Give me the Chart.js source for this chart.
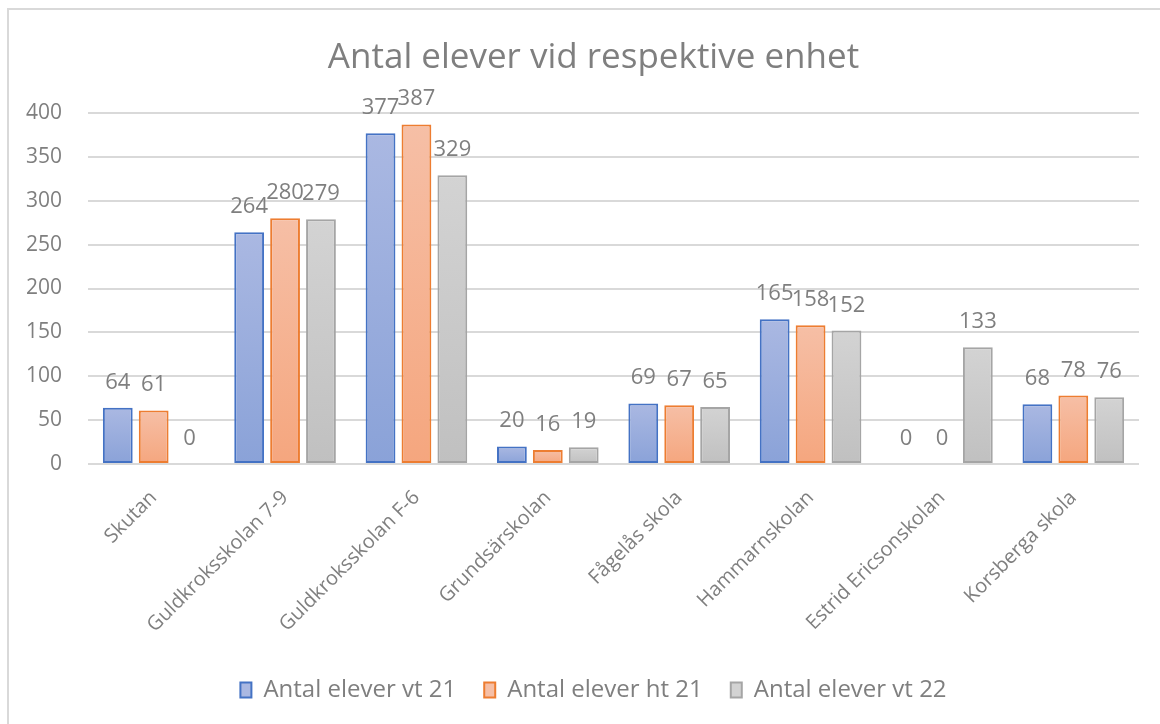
<!DOCTYPE html>
<html>
<head>
<meta charset="utf-8">
<script src="https://cdn.jsdelivr.net/npm/chart.js@4/dist/chart.umd.min.js"></script>
<style>
  html, body { margin: 0; padding: 0; background: #fff; overflow: hidden; }
  #frame { position: absolute; left: 7px; top: 8px; width: 1180px; height: 740px; border: 2px solid #d9d9d9; box-sizing: border-box; }
  #wrap { position: absolute; left: 0; top: 0; width: 1160px; height: 724px; }
</style>
</head>
<body>
<div id="frame"></div>
<div id="wrap"><canvas id="chart"></canvas></div>
<script>
// data
const categories = ['Skutan', 'Guldkroksskolan 7-9', 'Guldkroksskolan F-6', 'Grundsärskolan', 'Fågelås skola', 'Hammarnskolan', 'Estrid Ericsonskolan', 'Korsberga skola'];
const seriesNames = ['Antal elever vt 21', 'Antal elever ht 21', 'Antal elever vt 22'];
const vt21 = [64, 264, 377, 20, 69, 165, 0, 68];
const ht21 = [61, 280, 387, 16, 67, 158, 0, 78];
const vt22 = [0, 279, 329, 19, 65, 152, 133, 76];
const yMin = 0, yMax = 400, yStep = 50;

const TEXT = '#7f7f7f';
const FONT = '"Open Sans"';

// excel-ish colours: [top of gradient, bottom of gradient, border]
const palette = [
    ['#aab8e2', '#8aa2d8', '#4472c4'],
    ['#f6bfa6', '#f5a67e', '#ed7d31'],
    ['#d3d3d3', '#c0c0c0', '#a5a5a5']
];

// gradient per bar, from its top down to zero
function barFill(i) {
    return (ctx) => {
        const chart = ctx.chart;
        if (!chart.chartArea || ctx.type !== 'data') return palette[i][1];
        const y = chart.scales.y;
        const top = y.getPixelForValue(ctx.raw);
        const base = y.getPixelForValue(0);
        if (!(base > top)) return palette[i][1];
        const g = chart.ctx.createLinearGradient(0, top, 0, base);
        g.addColorStop(0, palette[i][0]);
        g.addColorStop(1, palette[i][1]);
        return g;
    };
}

// values above the bars (no datalabels plugin available)
const valueLabels = {
    id: 'valueLabels',
    afterDatasetsDraw(chart) {
        const c = chart.ctx;
        c.save();
        c.font = '22px ' + FONT;
        c.fillStyle = TEXT;
        c.textAlign = 'center';
        c.textBaseline = 'alphabetic';
        chart.data.datasets.forEach((ds, di) => {
            const meta = chart.getDatasetMeta(di);
            meta.data.forEach((bar, i) => {
                c.fillText(String(ds.data[i]), bar.x, bar.y - 19);
            });
        });
        c.restore();
    }
};

const allSeries = [vt21, ht21, vt22];

new Chart(document.getElementById('chart'), {
    type: 'bar',
    data: {
        labels: categories,
        datasets: allSeries.map((vals, i) => ({
            label: seriesNames[i],
            data: vals,
            backgroundColor: barFill(i),
            borderColor: palette[i][2],
            borderWidth: (ctx) => (ctx.raw === 0 ? 0 : 2),
            borderSkipped: false,
            categoryPercentage: 0.82,
            barPercentage: 0.83
        }))
    },
    options: {
        responsive: true,
        maintainAspectRatio: false,
        animation: false,
        layout: { padding: { left: 48, right: 21, top: 0, bottom: 12 } },
        scales: {
            y: {
                min: yMin,
                max: yMax,
                border: { display: false },
                grid: { color: '#d9d9d9', lineWidth: 2, drawTicks: false },
                // mirrored + far so the labels are right aligned left of the plot without being clipped
                ticks: { stepSize: yStep, mirror: true, crossAlign: 'far', padding: -62, color: TEXT, font: { family: FONT, size: 21 } },
                afterFit(scale) { scale.width = 40; }
            },
            x: {
                border: { display: false },
                grid: { display: false },
                ticks: { maxRotation: 45, minRotation: 45, padding: 14, color: TEXT, font: { family: FONT, size: 20 } },
                afterFit(scale) { scale.height = 186; }
            }
        },
        plugins: {
            title: {
                display: true,
                text: 'Antal elever vid respektive enhet',
                color: TEXT,
                font: { family: FONT, size: 35, weight: 'normal' },
                padding: { top: 37, bottom: 34 }
            },
            legend: {
                position: 'bottom',
                labels: {
                    color: TEXT,
                    font: { family: FONT, size: 24 },
                    boxWidth: 11,
                    boxHeight: 15,
                    padding: 28,
                    generateLabels(chart) {
                        return chart.data.datasets.map((ds, i) => ({
                            text: ds.label,
                            fillStyle: palette[i][0],
                            strokeStyle: palette[i][2],
                            lineWidth: 2,
                            fontColor: TEXT,
                            datasetIndex: i
                        }));
                    }
                }
            },
            tooltip: { enabled: false }
        }
    },
    plugins: [valueLabels]
});
</script>
</body>
</html>
